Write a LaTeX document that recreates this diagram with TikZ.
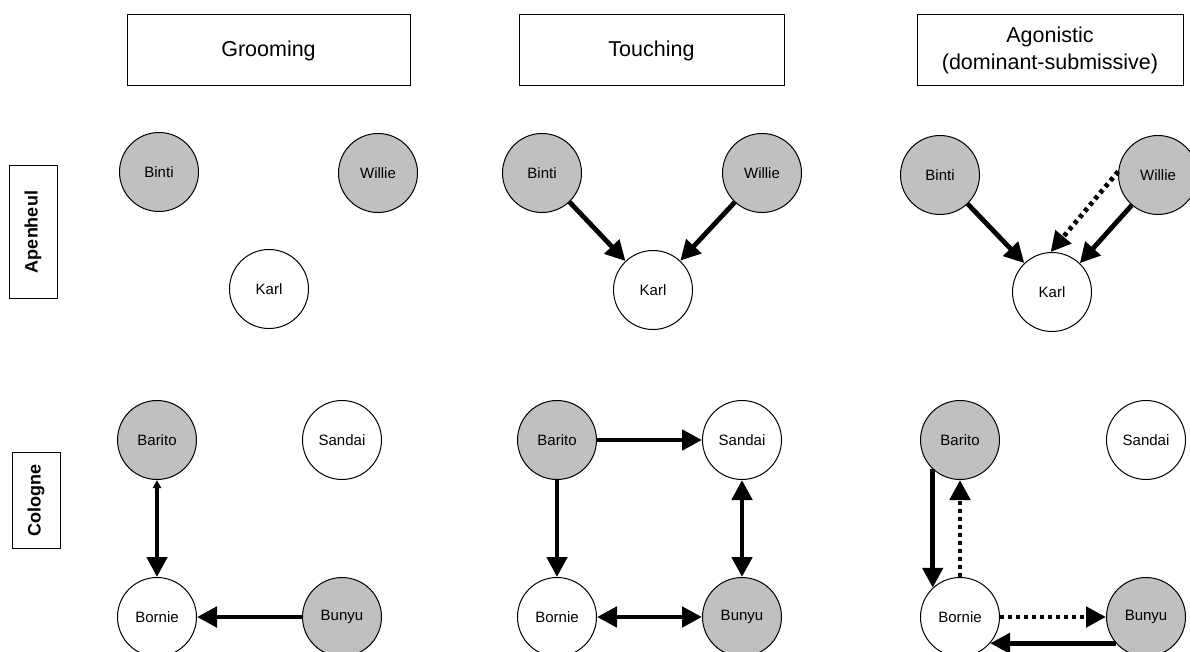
\documentclass[tikz,border=0pt]{standalone}
\usepackage{fontspec}
\setmainfont{Liberation Sans}
\usetikzlibrary{arrows.meta}
\definecolor{ggray}{HTML}{C0C0C0}
\tikzset{
  hdr/.style={draw, line width=1pt, minimum width=283pt, minimum height=71pt, inner sep=0pt, align=center, font=\fontsize{21.5}{27}\selectfont},
  rowlab/.style={draw, line width=1pt, rotate=90, inner sep=0pt, font=\fontsize{18}{20}\selectfont\bfseries},
  ape/.style={draw, line width=1pt, circle, minimum size=79pt, inner sep=0pt, font=\fontsize{15}{18}\selectfont},
  dom/.style={ape, fill=ggray},
  sub/.style={ape, fill=white},
  big/.style={line width=4.8pt, -{Triangle[length=20pt,width=20pt]}},
  bigtwo/.style={line width=4.8pt, {Triangle[length=20pt,width=20pt]}-{Triangle[length=20pt,width=20pt]}},
  dots/.style={big, dash pattern=on 4pt off 4pt},
}
\begin{document}
\begin{tikzpicture}[x=1pt,y=-1pt]
\useasboundingbox (0,0) rectangle (1190,652);
% headers
\node[hdr] (h1) at (268.5,50.5) {Grooming};
\node[hdr, minimum width=265pt] (h2) at (651.5,50.5) {Touching};
\node[hdr, minimum width=266pt] (h3) at (1050,50.5) {Agonistic\\(dominant-submissive)};
% row labels
\node[rowlab, minimum width=132pt, minimum height=48pt] (r1) at (33,232) {Apenheul};
\node[rowlab, minimum width=96pt, minimum height=48pt] (r2) at (36,500) {Cologne};
% Grooming Apenheul
\node[dom] (Bi1) at (159,172) {Binti};
\node[dom] (Wi1) at (378,173) {Willie};
\node[sub] (Ka1) at (269,289) {Karl};
% Touching Apenheul
\node[dom] (Bi2) at (542,173) {Binti};
\node[dom] (Wi2) at (762,173) {Willie};
\node[sub] (Ka2) at (653,290) {Karl};
% Agonistic Apenheul
\node[dom] (Bi3) at (940,175) {Binti};
\node[dom] (Wi3) at (1158,175) {Willie};
\node[sub] (Ka3) at (1052,292) {Karl};
% Grooming Cologne
\node[dom] (Ba1) at (157,440) {Barito};
\node[sub] (Sa1) at (342,440) {Sandai};
\node[sub] (Bo1) at (157,617) {Bornie};
\node[dom] (Bu1) at (342,617) {Bunyu};
% Touching Cologne
\node[dom] (Ba2) at (557,440) {Barito};
\node[sub] (Sa2) at (742,440) {Sandai};
\node[sub] (Bo2) at (557,617) {Bornie};
\node[dom] (Bu2) at (742,617) {Bunyu};
% Agonistic Cologne
\node[dom] (Ba3) at (960,440) {Barito};
\node[sub] (Sa3) at (1146,440) {Sandai};
\node[sub] (Bo3) at (960,617) {Bornie};
\node[dom] (Bu3) at (1146,617) {Bunyu};
% arrows Touching Apenheul
\draw[big] (Bi2) -- (Ka2);
\draw[big] (Wi2) -- (Ka2);
% arrows Agonistic Apenheul
\draw[big] (Bi3) -- (Ka3);
\draw[dots] (Wi3.175) -- (Ka3.92);
\draw[big] (Wi3.229) -- (Ka3.46);
% arrows Grooming Cologne
\draw[line width=4.8pt, {Triangle[length=8pt,width=8pt]}-{Triangle[length=20pt,width=20pt]}] (Ba1) -- (Bo1);
\draw[big] (Bu1) -- (Bo1);
% arrows Touching Cologne
\draw[big] (Ba2) -- (Sa2);
\draw[big] (Ba2) -- (Bo2);
\draw[bigtwo] (Bu2) -- (Sa2);
\draw[bigtwo] (Bo2) -- (Bu2);
% arrows Agonistic Cologne
\draw[big] (Ba3.227) -- (Bo3.133);
\draw[dots] (Bo3) -- (Ba3);
\draw[dots] (Bo3) -- (Bu3);
\draw[big] (Bu3.221) -- (Bo3.319);
\end{tikzpicture}
\end{document}
